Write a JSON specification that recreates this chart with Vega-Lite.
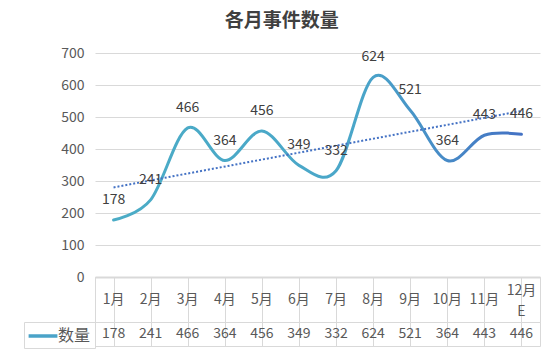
{
  "$schema": "https://vega.github.io/schema/vega-lite/v6.json",
  "background": "white",
  "padding": {"left": 23, "top": 12, "right": 5, "bottom": 5},
  "title": {"text": "各月事件数量", "anchor": "middle", "font": "Noto Sans CJK SC", "fontSize": 19, "fontWeight": "bold", "color": "#404040", "offset": 15},
  "datasets": {
    "months": [
      {"i": 1, "m": "1月", "v": 178, "s": "数量"},
      {"i": 2, "m": "2月", "v": 241, "s": "数量"},
      {"i": 3, "m": "3月", "v": 466, "s": "数量"},
      {"i": 4, "m": "4月", "v": 364, "s": "数量"},
      {"i": 5, "m": "5月", "v": 456, "s": "数量"},
      {"i": 6, "m": "6月", "v": 349, "s": "数量"},
      {"i": 7, "m": "7月", "v": 332, "s": "数量"},
      {"i": 8, "m": "8月", "v": 624, "s": "数量"},
      {"i": 9, "m": "9月", "v": 521, "s": "数量"},
      {"i": 10, "m": "10月", "v": 364, "s": "数量"},
      {"i": 11, "m": "11月", "v": 443, "s": "数量"},
      {"i": 12, "m": "12月\nE", "v": 446, "s": "数量"}
    ],
    "trend": [
      {"i": 1, "v": 280},
      {"i": 12, "v": 519}
    ]
  },
  "spacing": 0,
  "bounds": "flush",
  "resolve": {"scale": {"x": "independent", "color": "independent"}, "legend": {"color": "independent"}},
  "vconcat": [
    {
      "width": 445,
      "height": 224,
      "view": {"stroke": null},
      "encoding": {
        "x": {"field": "i", "type": "quantitative", "scale": {"domain": [0.5, 12.5], "nice": false, "zero": false},
          "axis": {"labels": false, "ticks": false, "grid": false, "domainColor": "#d9d9d9", "domainWidth": 2, "title": null}},
        "y": {"field": "v", "type": "quantitative", "scale": {"domain": [0, 700], "nice": false},
          "axis": {"values": [0, 100, 200, 300, 400, 500, 600, 700], "title": null, "domain": false, "ticks": false, "gridColor": "#d9d9d9", "labelFontSize": 14, "labelColor": "#595959", "labelPadding": 11, "labelFont": "Noto Sans CJK SC"}}
      },
      "layer": [
        {
          "data": {"name": "months"},
          "mark": {"type": "line", "interpolate": "cardinal", "strokeWidth": 3, "strokeCap": "round",
            "color": {"gradient": "linear", "x1": 0, "y1": 0, "x2": 1, "y2": 0,
              "stops": [{"offset": 0, "color": "#4bacc6"}, {"offset": 0.6, "color": "#4aa6c9"}, {"offset": 1, "color": "#4472c4"}]}}
        },
        {
          "data": {"name": "trend"},
          "mark": {"type": "line", "strokeDash": [2, 2], "strokeWidth": 2, "color": "#4472c4"}
        },
        {
          "data": {"name": "months"},
          "mark": {"type": "text", "dy": -20, "fontSize": 14, "font": "Noto Sans CJK SC", "color": "#404040", "baseline": "middle"},
          "encoding": {"text": {"field": "v"}}
        }
      ]
    },
    {
      "width": 445,
      "height": 45,
      "data": {"name": "months"},
      "view": {"stroke": "#d9d9d9"},
      "encoding": {
        "x": {"field": "m", "type": "ordinal", "sort": null, "scale": {"paddingInner": 0, "paddingOuter": 0},
          "axis": {"labels": false, "ticks": false, "domain": false, "grid": true, "gridColor": "#d9d9d9", "bandPosition": 0, "title": null}},
        "text": {"field": "m"}
      },
      "layer": [
        {
          "transform": [{"filter": "indexof(datum.m, '\\n') < 0"}],
          "mark": {"type": "text", "fontSize": 14, "font": "Noto Sans CJK SC", "color": "#595959", "baseline": "middle"}
        },
        {
          "transform": [{"filter": "indexof(datum.m, '\\n') >= 0"}],
          "mark": {"type": "text", "lineBreak": "\n", "fontSize": 14, "font": "Noto Sans CJK SC", "color": "#595959", "lineHeight": 21, "baseline": "middle", "dy": -9}
        }
      ]
    },
    {
      "width": 445,
      "height": 24,
      "data": {"name": "months"},
      "view": {"stroke": "#d9d9d9"},
      "mark": {"type": "text", "fontSize": 14, "font": "Noto Sans CJK SC", "baseline": "middle"},
      "encoding": {
        "x": {"field": "m", "type": "ordinal", "sort": null, "scale": {"paddingInner": 0, "paddingOuter": 0},
          "axis": {"labels": false, "ticks": false, "domain": false, "grid": true, "gridColor": "#d9d9d9", "bandPosition": 0, "title": null}},
        "text": {"field": "v"},
        "color": {"field": "s", "type": "nominal", "scale": {"range": ["#595959"]},
          "legend": {"orient": "left", "title": null, "offset": 0, "padding": 4, "strokeColor": "#d9d9d9",
            "symbolType": "M-1.8,0L1.8,0", "symbolSize": 256, "symbolStrokeWidth": 3.5, "symbolOffset": 5,
            "labelOffset": 5, "labelFontSize": 16, "labelFont": "Noto Sans CJK SC", "labelColor": "#595959",
            "encode": {"symbols": {"update": {"stroke": {"value": "#4aa3c8"}, "fill": {"value": "transparent"}}}}}}
      }
    }
  ]
}
